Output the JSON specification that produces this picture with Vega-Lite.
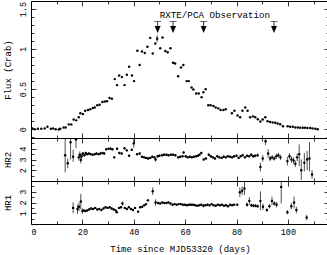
{
"$schema": "https://vega.github.io/schema/vega-lite/v6.json",
"padding": {"left": 2, "top": 0, "right": 1, "bottom": 1},
"spacing": 0,
"bounds": "flush",
"config": {
  "view": {"stroke": "black", "strokeWidth": 1},
  "font": "Liberation Mono",
  "axis": {"labelFont": "Liberation Mono", "titleFont": "Liberation Mono", "labelFontSize": 8.5, "titleFontSize": 9, "titleFontWeight": "normal", "labelColor": "black", "titleColor": "black", "tickColor": "black", "tickWidth": 0.8, "domain": false, "grid": false}
},
"datasets": {
"flux": [
{"d":0.5,"f":0.01},{"d":1.4,"f":0.0},{"d":2.7,"f":0.005},{"d":4.0,"f":0.005},{"d":5.3,"f":0.01},{"d":6.4,"f":0.03},{"d":7.7,"f":0.005},{"d":8.6,"f":0.01},{"d":9.6,"f":0.0},{"d":10.8,"f":-0.005},{"d":11.4,"f":0.005},{"d":12.7,"f":0.02},{"d":13.5,"f":0.02},{"d":14.7,"f":0.06},{"d":15.7,"f":0.06},{"d":16.6,"f":0.12},{"d":17.6,"f":0.11},{"d":18.6,"f":0.15},{"d":19.2,"f":0.2},{"d":20.2,"f":0.19},{"d":21.1,"f":0.23},{"d":22.2,"f":0.24},{"d":23.1,"f":0.25},{"d":24.1,"f":0.265},{"d":24.8,"f":0.27},{"d":25.8,"f":0.3},{"d":26.7,"f":0.305},{"d":27.8,"f":0.34},{"d":28.7,"f":0.345},{"d":29.6,"f":0.35},{"d":30.6,"f":0.39},{"d":31.5,"f":0.38},{"d":32.6,"f":0.625},{"d":33.5,"f":0.55},{"d":34.3,"f":0.67},{"d":35.4,"f":0.65},{"d":36.4,"f":0.55},{"d":37.3,"f":0.68},{"d":38.2,"f":0.78},{"d":39.3,"f":0.67},{"d":40.1,"f":0.6},{"d":41.4,"f":0.98},{"d":42.3,"f":0.8},{"d":43.2,"f":0.97},{"d":44.3,"f":0.95},{"d":45.3,"f":1.03},{"d":46.4,"f":1.14},{"d":47.4,"f":0.945},{"d":48.4,"f":1.07},{"d":49.1,"f":1.13},{"d":50.3,"f":1.01},{"d":51.2,"f":1.145},{"d":52.3,"f":0.975},{"d":53.2,"f":0.96},{"d":54.3,"f":1.01},{"d":55.3,"f":0.83},{"d":56.1,"f":0.82},{"d":57.3,"f":0.66},{"d":58.4,"f":0.77},{"d":59.3,"f":0.8},{"d":60.6,"f":0.6},{"d":61.4,"f":0.6},{"d":62.5,"f":0.52},{"d":63.2,"f":0.495},{"d":64.3,"f":0.445},{"d":65.3,"f":0.445},{"d":66.4,"f":0.4},{"d":67.1,"f":0.46},{"d":68.0,"f":0.5},{"d":69.0,"f":0.3},{"d":69.9,"f":0.3},{"d":71.0,"f":0.29},{"d":71.9,"f":0.27},{"d":72.9,"f":0.26},{"d":73.8,"f":0.24},{"d":74.9,"f":0.24},{"d":75.8,"f":0.25},{"d":78.2,"f":0.2},{"d":79.2,"f":0.23},{"d":80.4,"f":0.17},{"d":81.4,"f":0.15},{"d":82.3,"f":0.23},{"d":83.4,"f":0.27},{"d":84.3,"f":0.23},{"d":85.3,"f":0.15},{"d":86.4,"f":0.16},{"d":87.3,"f":0.15},{"d":88.3,"f":0.125},{"d":89.3,"f":0.095},{"d":90.2,"f":0.12},{"d":91.2,"f":0.15},{"d":92.1,"f":0.1},{"d":93.1,"f":0.09},{"d":94.1,"f":0.083},{"d":95.1,"f":0.08},{"d":96.0,"f":0.07},{"d":97.0,"f":0.062},{"d":98.1,"f":0.037},{"d":99.9,"f":0.037},{"d":100.9,"f":0.03},{"d":101.9,"f":0.03},{"d":102.9,"f":0.02},{"d":103.9,"f":0.02},{"d":104.8,"f":0.018},{"d":105.8,"f":0.018},{"d":106.7,"f":0.018},{"d":107.6,"f":0.015},{"d":108.7,"f":0.015},{"d":109.6,"f":0.01},{"d":110.7,"f":0.005},{"d":111.6,"f":0.0}
],
"fluxerr": [{"d":49.1,"lo":1.09,"hi":1.17}],
"arrows": [{"d":49.3,"top":1.345,"head":1.245},{"d":55.3,"top":1.345,"head":1.245},{"d":67.2,"top":1.345,"head":1.245},{"d":94.6,"top":1.345,"head":1.245}],
"lbl": [{"d":71.6,"f":1.43,"text":"RXTE/PCA Observation"}],
"hr2": [
{"d":13.3,"v":3.4,"lo":1.8,"hi":5.0},{"d":14.3,"v":2.65,"lo":2.2,"hi":3.1},{"d":15.4,"v":4.6,"lo":3.0,"hi":5.0},{"d":16.4,"v":3.25,"lo":2.8,"hi":3.9},{"d":17.5,"v":4.85,"lo":4.05,"hi":5.2},{"d":18.6,"v":3.2,"lo":2.9,"hi":3.5},{"d":19.0,"v":3.45,"lo":3.15,"hi":3.75},{"d":19.4,"v":2.95,"lo":2.65,"hi":3.25},{"d":19.7,"v":3.3,"lo":3.05,"hi":3.55},{"d":20.2,"v":3.55,"lo":3.4,"hi":3.7},{"d":20.8,"v":3.4,"lo":3.3,"hi":3.5},{"d":21.3,"v":3.6,"lo":3.5,"hi":3.7},{"d":21.8,"v":3.5,"lo":3.4,"hi":3.6},{"d":22.5,"v":3.55,"lo":3.45,"hi":3.65},{"d":23.2,"v":3.5,"lo":3.4,"hi":3.6},{"d":24.0,"v":3.45,"lo":3.35,"hi":3.55},{"d":24.8,"v":3.5,"lo":3.4,"hi":3.6},{"d":25.5,"v":3.55,"lo":3.45,"hi":3.65},{"d":26.3,"v":3.5,"lo":3.4,"hi":3.6},{"d":27.0,"v":3.55,"lo":3.45,"hi":3.65},{"d":27.8,"v":3.6,"lo":3.5,"hi":3.7},{"d":28.5,"v":3.55,"lo":3.45,"hi":3.65},{"d":29.3,"v":3.95,"lo":3.85,"hi":4.05},{"d":30.2,"v":4.0,"lo":3.9,"hi":4.1},{"d":31.0,"v":4.0,"lo":3.9,"hi":4.1},{"d":31.7,"v":3.95,"lo":3.85,"hi":4.05},{"d":32.4,"v":3.2,"lo":3.1,"hi":3.3},{"d":33.5,"v":4.0,"lo":3.9,"hi":4.1},{"d":34.4,"v":3.6,"lo":3.5,"hi":3.7},{"d":35.3,"v":3.55,"lo":3.45,"hi":3.65},{"d":36.4,"v":4.05,"lo":3.95,"hi":4.15},{"d":37.3,"v":3.85,"lo":3.75,"hi":3.95},{"d":38.2,"v":3.35,"lo":3.25,"hi":3.45},{"d":39.2,"v":3.9,"lo":3.8,"hi":4.0},{"d":40.0,"v":4.5,"lo":4.1,"hi":4.9},{"d":41.3,"v":3.5,"lo":3.4,"hi":3.6},{"d":42.3,"v":3.55,"lo":3.45,"hi":3.65},{"d":43.2,"v":3.25,"lo":3.15,"hi":3.35},{"d":44.0,"v":3.2,"lo":3.1,"hi":3.3},{"d":44.8,"v":3.15,"lo":3.05,"hi":3.25},{"d":45.6,"v":3.1,"lo":3.0,"hi":3.2},{"d":46.4,"v":3.15,"lo":3.05,"hi":3.25},{"d":47.2,"v":3.25,"lo":3.15,"hi":3.35},{"d":48.0,"v":3.2,"lo":3.1,"hi":3.3},{"d":48.5,"v":3.0,"lo":2.8,"hi":3.2},{"d":49.3,"v":3.3,"lo":3.2,"hi":3.4},{"d":50.0,"v":3.35,"lo":3.25,"hi":3.45},{"d":51.0,"v":3.4,"lo":3.3,"hi":3.5},{"d":51.8,"v":3.45,"lo":3.35,"hi":3.55},{"d":52.7,"v":3.45,"lo":3.35,"hi":3.55},{"d":53.5,"v":3.4,"lo":3.3,"hi":3.5},{"d":54.4,"v":3.45,"lo":3.35,"hi":3.55},{"d":55.3,"v":3.45,"lo":3.35,"hi":3.55},{"d":56.2,"v":3.4,"lo":3.3,"hi":3.5},{"d":57.3,"v":3.2,"lo":3.1,"hi":3.3},{"d":58.1,"v":3.25,"lo":3.15,"hi":3.35},{"d":59.0,"v":3.3,"lo":3.2,"hi":3.4},{"d":59.4,"v":3.65,"lo":3.55,"hi":3.75},{"d":60.2,"v":3.3,"lo":3.2,"hi":3.4},{"d":61.0,"v":3.2,"lo":3.1,"hi":3.3},{"d":61.8,"v":3.25,"lo":3.15,"hi":3.35},{"d":62.6,"v":3.2,"lo":3.1,"hi":3.3},{"d":63.4,"v":3.25,"lo":3.15,"hi":3.35},{"d":64.3,"v":3.3,"lo":3.2,"hi":3.4},{"d":65.0,"v":3.35,"lo":3.25,"hi":3.45},{"d":65.6,"v":3.45,"lo":3.35,"hi":3.55},{"d":66.3,"v":3.6,"lo":3.5,"hi":3.7},{"d":67.2,"v":3.0,"lo":2.9,"hi":3.1},{"d":68.1,"v":3.1,"lo":3.0,"hi":3.2},{"d":69.2,"v":3.45,"lo":3.35,"hi":3.55},{"d":70.0,"v":3.3,"lo":3.2,"hi":3.4},{"d":70.8,"v":3.2,"lo":3.1,"hi":3.3},{"d":71.6,"v":3.1,"lo":3.0,"hi":3.2},{"d":72.5,"v":3.3,"lo":3.2,"hi":3.4},{"d":73.3,"v":3.2,"lo":3.1,"hi":3.3},{"d":74.2,"v":3.15,"lo":3.05,"hi":3.25},{"d":75.0,"v":3.25,"lo":3.15,"hi":3.35},{"d":75.8,"v":3.2,"lo":3.1,"hi":3.3},{"d":76.6,"v":3.3,"lo":3.2,"hi":3.4},{"d":77.5,"v":3.25,"lo":3.15,"hi":3.35},{"d":78.3,"v":3.2,"lo":3.1,"hi":3.3},{"d":79.1,"v":3.3,"lo":3.2,"hi":3.4},{"d":80.0,"v":3.35,"lo":3.25,"hi":3.45},{"d":80.8,"v":3.15,"lo":3.05,"hi":3.25},{"d":81.6,"v":3.3,"lo":3.2,"hi":3.4},{"d":82.4,"v":3.4,"lo":3.3,"hi":3.5},{"d":83.3,"v":3.2,"lo":3.1,"hi":3.3},{"d":84.1,"v":3.35,"lo":3.25,"hi":3.45},{"d":84.9,"v":3.3,"lo":3.2,"hi":3.4},{"d":85.7,"v":3.45,"lo":3.3,"hi":3.6},{"d":86.5,"v":3.3,"lo":3.15,"hi":3.45},{"d":87.3,"v":3.35,"lo":3.2,"hi":3.5},{"d":88.2,"v":3.4,"lo":3.25,"hi":3.55},{"d":89.3,"v":2.3,"lo":1.9,"hi":2.7},{"d":90.2,"v":3.1,"lo":2.8,"hi":3.4},{"d":91.3,"v":4.7,"lo":4.35,"hi":5.05},{"d":92.3,"v":3.55,"lo":3.15,"hi":3.95},{"d":93.1,"v":3.1,"lo":2.85,"hi":3.35},{"d":93.9,"v":3.2,"lo":3.0,"hi":3.4},{"d":94.7,"v":3.1,"lo":2.9,"hi":3.3},{"d":95.5,"v":3.3,"lo":3.05,"hi":3.55},{"d":96.3,"v":3.4,"lo":3.2,"hi":3.6},{"d":97.1,"v":3.2,"lo":2.95,"hi":3.45},{"d":99.8,"v":2.85,"lo":2.45,"hi":3.25},{"d":100.6,"v":3.3,"lo":3.0,"hi":3.6},{"d":101.4,"v":3.0,"lo":2.7,"hi":3.3},{"d":102.2,"v":2.9,"lo":2.6,"hi":3.2},{"d":102.9,"v":2.6,"lo":2.3,"hi":2.9},{"d":103.6,"v":3.2,"lo":2.85,"hi":3.55},{"d":104.4,"v":3.5,"lo":2.4,"hi":4.4},{"d":105.2,"v":2.0,"lo":1.1,"hi":3.0},{"d":106.4,"v":2.7,"lo":1.9,"hi":3.6},{"d":107.5,"v":3.0,"lo":2.0,"hi":3.8},{"d":108.4,"v":3.1,"lo":1.9,"hi":4.6},{"d":109.4,"v":1.6,"lo":1.2,"hi":2.0}
],
"hr1": [
{"d":16.4,"v":1.5,"lo":1.0,"hi":2.0},{"d":18.1,"v":1.4,"lo":0.95,"hi":1.8},{"d":18.7,"v":1.6,"lo":1.2,"hi":2.0},{"d":19.4,"v":2.1,"lo":1.35,"hi":2.8},{"d":20.0,"v":1.2,"lo":0.95,"hi":1.45},{"d":20.6,"v":1.25,"lo":1.15,"hi":1.35},{"d":21.2,"v":1.2,"lo":1.1,"hi":1.3},{"d":21.8,"v":1.25,"lo":1.15,"hi":1.35},{"d":22.6,"v":1.35,"lo":1.27,"hi":1.43},{"d":23.4,"v":1.45,"lo":1.37,"hi":1.53},{"d":24.2,"v":1.4,"lo":1.32,"hi":1.48},{"d":25.0,"v":1.5,"lo":1.42,"hi":1.58},{"d":25.8,"v":1.35,"lo":1.27,"hi":1.43},{"d":26.6,"v":1.4,"lo":1.32,"hi":1.48},{"d":27.4,"v":1.3,"lo":1.22,"hi":1.38},{"d":28.2,"v":1.45,"lo":1.37,"hi":1.53},{"d":29.0,"v":1.55,"lo":1.47,"hi":1.63},{"d":29.8,"v":1.5,"lo":1.42,"hi":1.58},{"d":30.6,"v":1.55,"lo":1.47,"hi":1.63},{"d":31.4,"v":1.45,"lo":1.37,"hi":1.53},{"d":32.2,"v":1.35,"lo":1.27,"hi":1.43},{"d":33.0,"v":1.25,"lo":1.17,"hi":1.33},{"d":33.4,"v":1.1,"lo":1.02,"hi":1.18},{"d":34.3,"v":1.5,"lo":1.42,"hi":1.58},{"d":35.0,"v":1.55,"lo":1.47,"hi":1.63},{"d":35.6,"v":1.9,"lo":1.7,"hi":2.1},{"d":36.5,"v":1.5,"lo":1.42,"hi":1.58},{"d":37.3,"v":1.4,"lo":1.32,"hi":1.48},{"d":38.1,"v":1.55,"lo":1.47,"hi":1.63},{"d":38.9,"v":1.4,"lo":1.32,"hi":1.48},{"d":39.7,"v":1.3,"lo":1.22,"hi":1.38},{"d":40.5,"v":1.5,"lo":1.42,"hi":1.58},{"d":41.7,"v":1.15,"lo":1.07,"hi":1.23},{"d":42.5,"v":1.55,"lo":1.47,"hi":1.63},{"d":43.3,"v":1.6,"lo":1.52,"hi":1.68},{"d":44.1,"v":1.75,"lo":1.67,"hi":1.83},{"d":44.8,"v":1.85,"lo":1.77,"hi":1.93},{"d":45.5,"v":2.2,"lo":2.1,"hi":2.3},{"d":47.4,"v":3.05,"lo":2.7,"hi":3.4},{"d":48.5,"v":2.0,"lo":1.7,"hi":2.3},{"d":49.5,"v":1.95,"lo":1.87,"hi":2.03},{"d":50.3,"v":1.9,"lo":1.82,"hi":1.98},{"d":51.1,"v":2.0,"lo":1.92,"hi":2.08},{"d":51.9,"v":1.95,"lo":1.87,"hi":2.03},{"d":52.7,"v":1.95,"lo":1.87,"hi":2.03},{"d":53.5,"v":2.0,"lo":1.92,"hi":2.08},{"d":54.3,"v":1.9,"lo":1.82,"hi":1.98},{"d":55.1,"v":1.8,"lo":1.72,"hi":1.88},{"d":55.9,"v":1.85,"lo":1.77,"hi":1.93},{"d":56.7,"v":1.8,"lo":1.72,"hi":1.88},{"d":57.5,"v":1.85,"lo":1.77,"hi":1.93},{"d":58.3,"v":1.85,"lo":1.77,"hi":1.93},{"d":59.1,"v":1.8,"lo":1.72,"hi":1.88},{"d":59.9,"v":1.8,"lo":1.72,"hi":1.88},{"d":60.7,"v":1.75,"lo":1.67,"hi":1.83},{"d":61.5,"v":1.8,"lo":1.72,"hi":1.88},{"d":62.3,"v":1.8,"lo":1.72,"hi":1.88},{"d":63.1,"v":1.8,"lo":1.72,"hi":1.88},{"d":63.9,"v":1.75,"lo":1.67,"hi":1.83},{"d":64.7,"v":1.7,"lo":1.62,"hi":1.78},{"d":65.5,"v":1.75,"lo":1.67,"hi":1.83},{"d":66.3,"v":1.8,"lo":1.72,"hi":1.88},{"d":67.1,"v":1.7,"lo":1.55,"hi":1.85},{"d":67.9,"v":1.75,"lo":1.67,"hi":1.83},{"d":68.7,"v":1.8,"lo":1.72,"hi":1.88},{"d":69.5,"v":1.75,"lo":1.67,"hi":1.83},{"d":70.3,"v":1.85,"lo":1.77,"hi":1.93},{"d":71.1,"v":1.75,"lo":1.67,"hi":1.83},{"d":71.9,"v":1.7,"lo":1.62,"hi":1.78},{"d":72.7,"v":1.8,"lo":1.72,"hi":1.88},{"d":73.5,"v":1.75,"lo":1.67,"hi":1.83},{"d":74.3,"v":1.8,"lo":1.72,"hi":1.88},{"d":75.1,"v":1.7,"lo":1.62,"hi":1.78},{"d":75.9,"v":1.75,"lo":1.67,"hi":1.83},{"d":76.7,"v":1.65,"lo":1.57,"hi":1.73},{"d":77.5,"v":1.8,"lo":1.72,"hi":1.88},{"d":78.3,"v":1.75,"lo":1.67,"hi":1.83},{"d":79.1,"v":1.8,"lo":1.72,"hi":1.88},{"d":80.3,"v":1.8,"lo":1.72,"hi":1.88},{"d":81.3,"v":2.95,"lo":2.5,"hi":3.4},{"d":82.2,"v":3.1,"lo":2.7,"hi":3.5},{"d":83.1,"v":3.3,"lo":2.7,"hi":4.1},{"d":84.1,"v":1.8,"lo":1.6,"hi":2.0},{"d":85.0,"v":2.15,"lo":1.8,"hi":2.5},{"d":85.8,"v":1.75,"lo":1.6,"hi":1.9},{"d":86.6,"v":1.7,"lo":1.55,"hi":1.85},{"d":87.4,"v":1.7,"lo":1.55,"hi":1.85},{"d":88.2,"v":1.65,"lo":1.5,"hi":1.8},{"d":89.3,"v":2.15,"lo":1.3,"hi":3.05},{"d":90.3,"v":1.6,"lo":1.3,"hi":1.9},{"d":91.8,"v":1.3,"lo":1.15,"hi":1.45},{"d":92.8,"v":1.65,"lo":1.45,"hi":1.85},{"d":93.8,"v":2.15,"lo":1.75,"hi":2.55},{"d":94.7,"v":1.9,"lo":1.7,"hi":2.1},{"d":95.6,"v":1.8,"lo":1.55,"hi":2.05},{"d":97.4,"v":3.45,"lo":1.9,"hi":4.0},{"d":99.8,"v":1.1,"lo":0.9,"hi":1.3},{"d":101.3,"v":1.65,"lo":1.35,"hi":1.95},{"d":102.4,"v":2.0,"lo":1.45,"hi":2.55},{"d":103.3,"v":1.3,"lo":1.0,"hi":1.6},{"d":107.3,"v":0.6,"lo":0.35,"hi":0.85}
]
},
"vconcat": [
{
  "width": 298, "height": 137,
  "layer": [
    {"data": {"name": "flux"}, "mark": {"type": "point", "filled": true, "size": 6, "color": "black", "opacity": 1, "clip": true},
     "encoding": {
      "x": {"field": "d", "type": "quantitative", "scale": {"domain": [0, 116], "nice": false, "zero": false},
            "axis": {"orient": "bottom", "values": [0,10,20,30,40,50,60,70,80,90,100,110], "labels": false, "title": null,
                     "tickSize": {"condition": {"test": "datum.value % 20 === 0", "value": -5}, "value": -3}}},
      "y": {"field": "f", "type": "quantitative", "scale": {"domain": [-0.11, 1.6], "nice": false, "zero": false},
            "axis": {"orient": "left", "title": "Flux (Crab)", "values": [-0.1,0,0.1,0.2,0.3,0.4,0.5,0.6,0.7,0.8,0.9,1,1.1,1.2,1.3,1.4,1.5],
                     "labelExpr": "abs(datum.value*2 - round(datum.value*2)) < 0.001 ? format(datum.value, '~g') : ''",
                     "labelAngle": -90, "labelPadding": 9, "titlePadding": 6,
                     "tickSize": {"condition": {"test": "abs(datum.value*2 - round(datum.value*2)) < 0.001", "value": -5}, "value": -3}}}
     }},
    {"data": {"name": "flux"}, "mark": {"type": "point", "opacity": 0},
     "encoding": {
      "x": {"field": "d", "type": "quantitative", "axis": {"orient": "top", "values": [0,10,20,30,40,50,60,70,80,90,100,110], "labels": false, "title": null,
                     "tickSize": {"condition": {"test": "datum.value % 20 === 0", "value": -5}, "value": -3}}},
      "y": {"field": "f", "type": "quantitative", "axis": {"orient": "right", "title": null, "labels": false, "values": [-0.1,0,0.1,0.2,0.3,0.4,0.5,0.6,0.7,0.8,0.9,1,1.1,1.2,1.3,1.4,1.5],
                     "tickSize": {"condition": {"test": "abs(datum.value*2 - round(datum.value*2)) < 0.001", "value": -5}, "value": -3}}}
     }},
    {"data": {"name": "fluxerr"}, "mark": {"type": "rule", "color": "black", "strokeWidth": 0.8},
     "encoding": {"x": {"field": "d", "type": "quantitative", "axis": null}, "y": {"field": "lo", "type": "quantitative", "axis": null}, "y2": {"field": "hi"}}},
    {"data": {"name": "arrows"}, "mark": {"type": "rule", "color": "black", "strokeWidth": 0.8},
     "encoding": {"x": {"field": "d", "type": "quantitative", "axis": null}, "y": {"field": "top", "type": "quantitative", "axis": null}, "y2": {"field": "head"}}},
    {"data": {"name": "arrows"}, "mark": {"type": "tick", "orient": "horizontal", "color": "black", "size": 7, "thickness": 0.8},
     "encoding": {"x": {"field": "d", "type": "quantitative", "axis": null}, "y": {"field": "top", "type": "quantitative", "axis": null}}},
    {"data": {"name": "arrows"}, "mark": {"type": "point", "filled": true, "opacity": 1, "color": "black", "size": 49, "shape": "M-0.85,-1L0.85,-1L0,1Z"},
     "encoding": {"x": {"field": "d", "type": "quantitative", "axis": null}, "y": {"field": "head", "type": "quantitative", "axis": null}}},
    {"data": {"name": "lbl"}, "mark": {"type": "text", "font": "Liberation Mono", "fontSize": 9.2, "color": "black", "align": "center", "baseline": "middle"},
     "encoding": {"x": {"field": "d", "type": "quantitative", "axis": null}, "y": {"field": "f", "type": "quantitative", "axis": null}, "text": {"field": "text"}}}
  ],
  "resolve": {"axis": {"x": "independent", "y": "independent"}}
},
{
  "width": 298, "height": 43,
  "layer": [
    {"data": {"name": "hr2"}, "mark": {"type": "rule", "color": "black", "strokeWidth": 0.7, "clip": true},
     "encoding": {
      "x": {"field": "d", "type": "quantitative", "scale": {"domain": [0, 116], "nice": false, "zero": false},
            "axis": {"orient": "bottom", "values": [0,10,20,30,40,50,60,70,80,90,100,110], "labels": false, "title": null,
                     "tickSize": {"condition": {"test": "datum.value % 20 === 0", "value": -5}, "value": -3}}},
      "y": {"field": "lo", "type": "quantitative", "scale": {"domain": [1, 5], "nice": false, "zero": false},
            "axis": {"orient": "left", "title": "HR2", "values": [1.5,2,2.5,3,3.5,4,4.5],
                     "labelExpr": "datum.value % 1 === 0 ? format(datum.value, '~g') : ''",
                     "labelAngle": -90, "labelPadding": 9, "titlePadding": 6,
                     "tickSize": {"condition": {"test": "datum.value % 1 === 0", "value": -5}, "value": -3}}},
      "y2": {"field": "hi"}
     }},
    {"data": {"name": "hr2"}, "mark": {"type": "point", "filled": true, "size": 6, "color": "black", "opacity": 1, "clip": true},
     "encoding": {"x": {"field": "d", "type": "quantitative", "axis": null}, "y": {"field": "v", "type": "quantitative", "axis": null}}},
    {"data": {"name": "hr2"}, "mark": {"type": "point", "opacity": 0},
     "encoding": {
      "x": {"field": "d", "type": "quantitative", "axis": {"orient": "top", "values": [0,10,20,30,40,50,60,70,80,90,100,110], "labels": false, "title": null,
                     "tickSize": {"condition": {"test": "datum.value % 20 === 0", "value": -5}, "value": -3}}},
      "y": {"field": "v", "type": "quantitative", "axis": {"orient": "right", "title": null, "labels": false, "values": [1.5,2,2.5,3,3.5,4,4.5],
                     "tickSize": {"condition": {"test": "datum.value % 1 === 0", "value": -5}, "value": -3}}}
     }}
  ],
  "resolve": {"axis": {"x": "independent", "y": "independent"}}
},
{
  "width": 298, "height": 43,
  "layer": [
    {"data": {"name": "hr1"}, "mark": {"type": "rule", "color": "black", "strokeWidth": 0.7, "clip": true},
     "encoding": {
      "x": {"field": "d", "type": "quantitative", "scale": {"domain": [0, 116], "nice": false, "zero": false},
            "axis": {"orient": "bottom", "values": [0,10,20,30,40,50,60,70,80,90,100,110], "title": "Time since MJD53320 (days)",
                     "labelExpr": "datum.value % 20 === 0 ? datum.label : ''", "labelPadding": 8, "titlePadding": 9,
                     "tickSize": {"condition": {"test": "datum.value % 20 === 0", "value": -5}, "value": -3}}},
      "y": {"field": "lo", "type": "quantitative", "scale": {"domain": [0, 4], "nice": false, "zero": false},
            "axis": {"orient": "left", "title": "HR1", "values": [0.5,1,1.5,2,2.5,3,3.5],
                     "labelExpr": "datum.value % 1 === 0 ? format(datum.value, '~g') : ''",
                     "labelAngle": -90, "labelPadding": 9, "titlePadding": 6,
                     "tickSize": {"condition": {"test": "datum.value % 1 === 0", "value": -5}, "value": -3}}},
      "y2": {"field": "hi"}
     }},
    {"data": {"name": "hr1"}, "mark": {"type": "point", "filled": true, "size": 6, "color": "black", "opacity": 1, "clip": true},
     "encoding": {"x": {"field": "d", "type": "quantitative", "axis": null}, "y": {"field": "v", "type": "quantitative", "axis": null}}},
    {"data": {"name": "hr1"}, "mark": {"type": "point", "opacity": 0},
     "encoding": {
      "x": {"field": "d", "type": "quantitative", "axis": {"orient": "top", "values": [0,10,20,30,40,50,60,70,80,90,100,110], "labels": false, "title": null,
                     "tickSize": {"condition": {"test": "datum.value % 20 === 0", "value": -5}, "value": -3}}},
      "y": {"field": "v", "type": "quantitative", "axis": {"orient": "right", "title": null, "labels": false, "values": [0.5,1,1.5,2,2.5,3,3.5],
                     "tickSize": {"condition": {"test": "datum.value % 1 === 0", "value": -5}, "value": -3}}}
     }}
  ],
  "resolve": {"axis": {"x": "independent", "y": "independent"}}
}
]
}
